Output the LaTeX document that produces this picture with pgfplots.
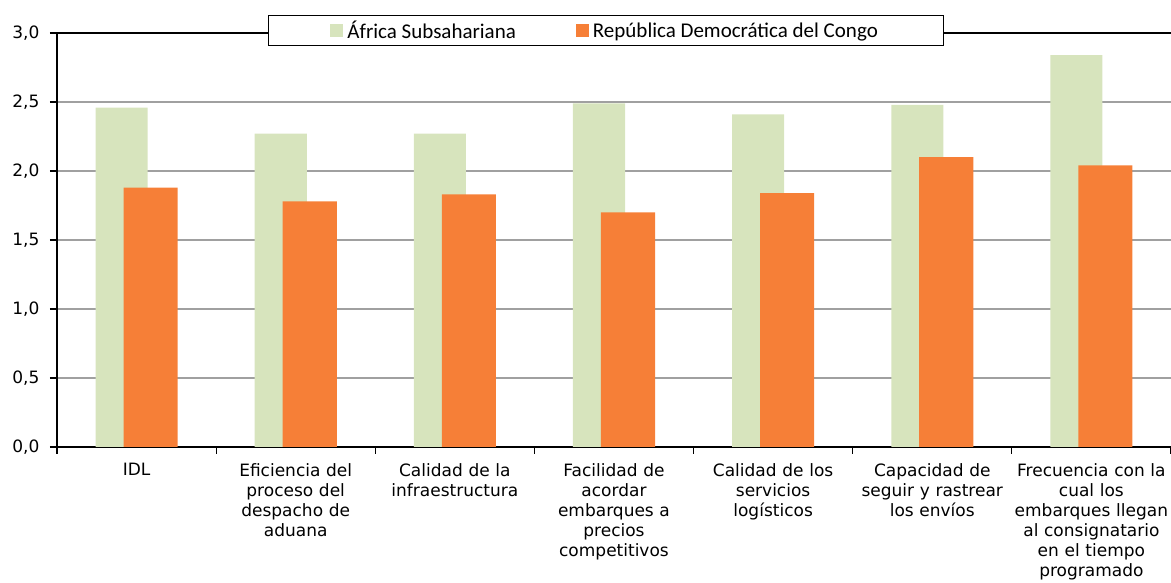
\documentclass[border=0pt]{standalone}
\usepackage{fontspec}
\setmainfont{DejaVu Sans}
\newfontfamily\legfont{Carlito}
\usepackage{pgfplots}
\pgfplotsset{compat=1.18}
\definecolor{ssa}{RGB}{215,228,189}
\definecolor{rdc}{RGB}{246,127,55}
\definecolor{gridc}{RGB}{160,160,160}

\begin{document}
\begin{tikzpicture}
\useasboundingbox (0pt,0pt) rectangle (1171pt,583pt);
\begin{axis}[
    at={(57pt,136pt)}, anchor=south west,
    scale only axis, width=1114pt, height=414pt,
    xmin=-0.5, xmax=6.5, ymin=0, ymax=3,
    axis x line*=bottom, axis y line*=left,
    axis line style={black, line width=1.6pt},
    ytick={0,0.5,...,3},
    ymajorgrids, major grid style={gridc, line width=1.2pt},
    yticklabel style={/pgf/number format/fixed, /pgf/number format/fixed zerofill,
      /pgf/number format/precision=1, /pgf/number format/use comma,
      /pgf/number format/assume math mode=true,
      font=\fontsize{17}{20}\selectfont, xshift=-7pt},
    ytick style={black, line width=1.2pt}, major tick length=7pt,
    tick align=outside,
    xtick={0,...,6},
    major x tick style={draw=none},
    minor xtick={-0.5,0.5,...,6.5},
    minor x tick style={black, line width=1.2pt}, minor tick length=7pt,
    xticklabels={IDL,
      {Eficiencia del\\proceso del\\despacho de\\aduana},
      {Calidad de la\\infraestructura},
      {Facilidad de\\acordar\\embarques a\\precios\\competitivos},
      {Calidad de los\\servicios\\logísticos},
      {Capacidad de\\seguir y rastrear\\los envíos},
      {Frecuencia con la\\cual los\\embarques llegan\\al consignatario\\en el tiempo\\programado}},
    xticklabel style={font=\fontsize{17}{20}\selectfont, text width=170pt, align=center, yshift=-6pt},
    legend columns=2,
    legend style={at={(0.493,1.006)}, anchor=center, draw=black, line width=1pt, fill=white,
      font=\legfont\fontsize{21}{24}\selectfont, inner xsep=62pt, inner ysep=3pt,
      nodes={inner xsep=4pt},
      /tikz/every even column/.append style={column sep=56pt}},
    legend image code/.code={\fill[#1] (0pt,-6.5pt) rectangle (13pt,6.5pt);},
]
\addplot[ybar, bar width=0.327, bar shift=-0.094, fill=ssa, draw=none]
  coordinates {(0,2.46) (1,2.27) (2,2.27) (3,2.49) (4,2.41) (5,2.48) (6,2.84)};
\addlegendentry{África Subsahariana}
\addplot[ybar, bar width=0.34, bar shift=0.088, fill=rdc, draw=none]
  coordinates {(0,1.88) (1,1.78) (2,1.83) (3,1.70) (4,1.84) (5,2.10) (6,2.04)};
\addlegendentry{República Democrática del Congo}
\draw[black, line width=1.6pt] (rel axis cs:0,1) -- (rel axis cs:1,1);
\end{axis}
\end{tikzpicture}
\end{document}
